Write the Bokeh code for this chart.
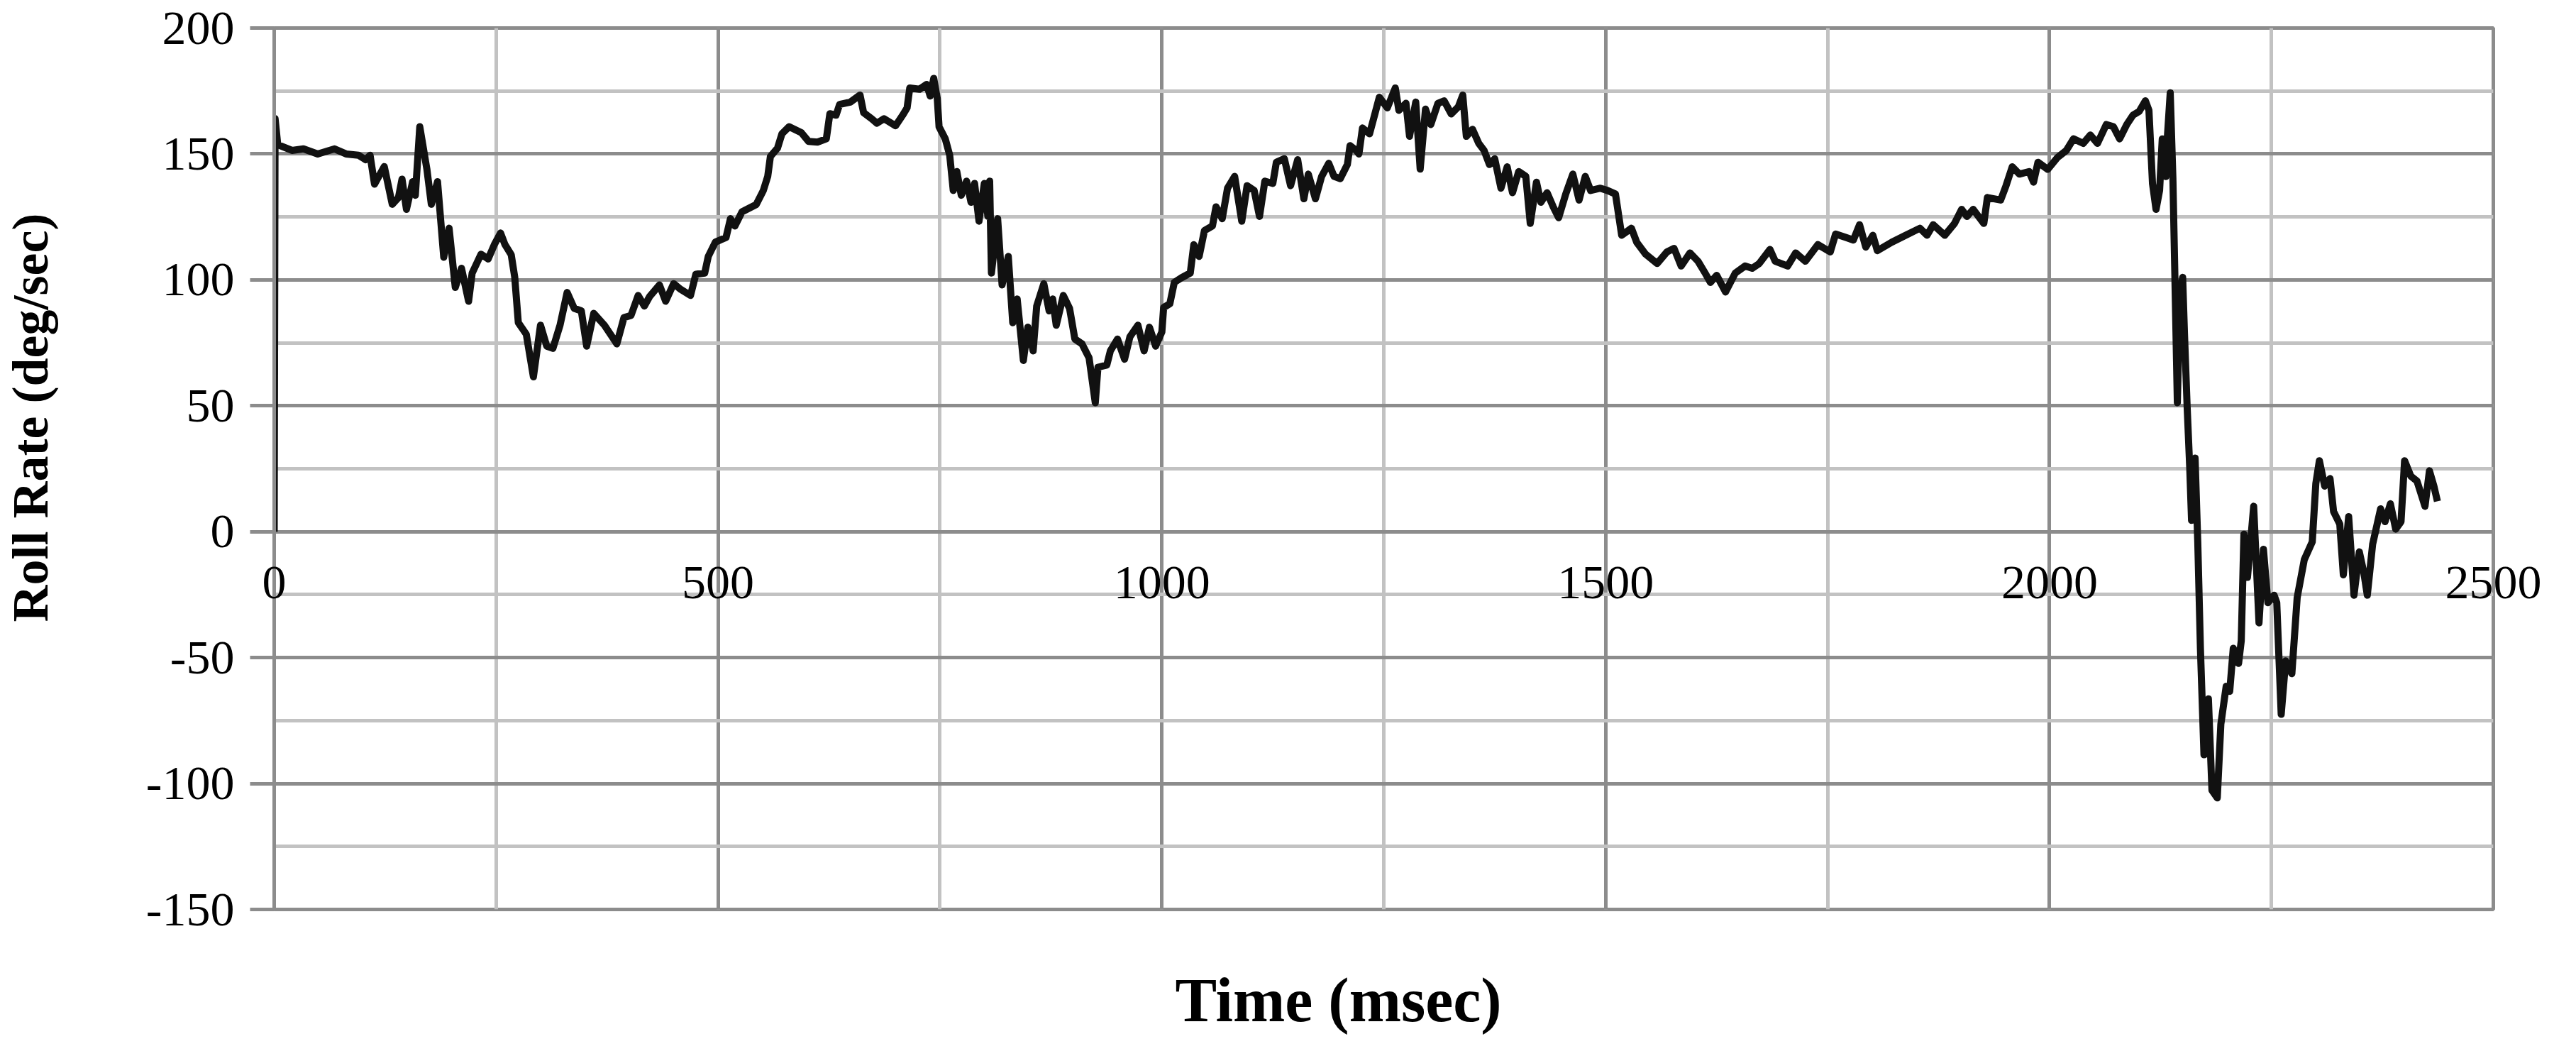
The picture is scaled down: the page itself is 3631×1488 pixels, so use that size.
import math
from bokeh.plotting import figure
from bokeh.models import (Range1d, SingleIntervalTicker, Label, LabelSet,
                          ColumnDataSource, PrintfTickFormatter)
from bokeh.embed import file_html
from bokeh.resources import INLINE

# ---- data ----
time_ms = [
    0, 1, 4, 20, 33, 49, 68, 81, 95, 103, 108, 113, 124, 133, 140, 144, 149, 156, 159, 164,
    172, 177, 184, 191, 197, 204, 211, 219, 223, 233, 241, 248, 255, 260, 267, 271, 275, 284,
    292, 300, 307, 314, 322, 330, 338, 346, 352, 360, 372, 386, 394,
    402, 410, 417, 423, 434, 441, 450, 458, 469, 475, 485, 489, 497, 509, 514, 519, 527, 543,
    551, 556, 559, 567, 572, 580, 594, 602, 612, 622, 626, 633, 637, 649, 660, 664, 673, 679,
    687, 700, 708, 713, 716, 727, 735, 739, 743, 747, 749, 756, 761, 765, 769, 774, 780, 785,
    789, 794, 800, 804,
    806, 808, 815, 820, 827, 832, 837, 844, 849, 855, 859, 867, 873, 877, 881, 889, 896, 902,
    910, 918, 925, 928, 938, 942, 950, 958, 964, 973, 980, 986, 993, 1000, 1002, 1009, 1014,
    1022, 1032, 1036, 1042, 1048, 1057, 1061, 1068, 1074, 1082, 1090, 1096, 1104, 1110, 1116,
    1125, 1129, 1138, 1145, 1153, 1160, 1165, 1173, 1180, 1188, 1194, 1201, 1209,
    1212, 1219, 1222, 1226, 1234, 1245, 1254, 1263, 1267, 1275, 1279, 1286, 1291, 1297, 1303,
    1311, 1318, 1326, 1334, 1339, 1343, 1350, 1357, 1363, 1369, 1375, 1382, 1389, 1395, 1402,
    1410, 1415, 1422, 1427, 1434, 1441, 1447, 1455, 1463, 1470, 1477, 1483, 1494, 1502, 1511,
    1518, 1529, 1535, 1545, 1558, 1569, 1577, 1585, 1595, 1604, 1612, 1618,
    1625, 1635, 1646, 1657, 1665, 1673, 1685, 1691, 1705, 1714, 1725, 1739, 1753, 1759, 1771,
    1779, 1786, 1793, 1801, 1806, 1822, 1838, 1854, 1862, 1869, 1882, 1893, 1901, 1907, 1914,
    1926, 1930, 1945, 1951, 1958, 1966, 1977, 1982, 1987, 1998, 2009, 2019, 2027,
    2038, 2046, 2054, 2064, 2072, 2079, 2087, 2094, 2101, 2108, 2112, 2116, 2120, 2124, 2127,
    2131, 2133, 2136, 2139, 2141, 2144, 2147, 2150, 2152, 2155, 2158, 2160, 2164, 2167, 2170,
    2174, 2179, 2183, 2189, 2193, 2199, 2203, 2207, 2213, 2216, 2219, 2223, 2230, 2236, 2241,
    2246, 2253, 2256, 2261, 2266, 2273, 2279, 2287, 2296, 2300, 2304, 2310, 2316, 2320, 2327,
    2331, 2337, 2343, 2349, 2354, 2358, 2364, 2373, 2378, 2384, 2390, 2396, 2400, 2407, 2414,
    2423, 2428, 2433, 2437,
]
roll_rate = [
    0, 164, 153.7, 151.4, 152, 150, 152, 150, 149.5, 147.7, 149.5, 138, 145, 130, 132.7, 140, 128, 139, 133.6, 160.8,
    144, 130, 139, 109, 120.5, 97, 104.6, 91.5, 102.7, 110.2, 108.3, 114, 118.6, 114, 110, 101, 83, 78.4,
    61.5, 82, 73.7, 72.8, 82, 95, 88.7, 87.7, 73.7, 86.7, 82, 74.6, 85,
    85.9, 93.8, 89.6, 93.4, 98, 91.5, 98.5, 96.2, 93.8, 102.2, 102.7, 109.3, 115, 116.8, 124.3, 121.4, 127, 129.9,
    135.5, 141.1, 149, 152.3, 158, 160.8, 158.4, 155, 154.7, 156, 166, 165.4, 169.7, 170.6, 173.4, 166.4, 164, 162.2,
    164, 161.2, 165.4, 168.3, 176.2, 175.7, 177.6, 173, 180, 172, 160.8, 156, 149.5, 135.5, 143, 133.6, 139.2, 130.8,
    138.3, 123.3, 138.3, 125.2,
    139.2, 102.7, 124.3, 98, 109.3, 83, 92.4, 68, 81.2, 71.8, 89.6, 98.5, 87.7, 92.4, 82, 93.8, 88.7, 76.5,
    74.6, 69, 51.2, 65.3, 66.2, 71.8, 76.5, 68.5, 77.4, 82, 71.8, 81.2, 73.7, 79.3, 89, 90.5, 99,
    100.8, 102.7, 114, 109.3, 119.6, 121.4, 129, 124.3, 136.4, 141.1, 123.3, 137.4, 135.5, 125.2, 139.2,
    138.3, 146.7, 148.1, 137.4, 147.7, 132.2, 142, 132.2, 141.1, 146.3, 141.1, 140.2, 145.8,
    153.3, 151.4, 150, 160.3, 158, 172.5, 168.3, 176.2, 167.3, 170.1, 157, 170.6, 144, 167.8, 161.7,
    170.1, 171.1, 165.9, 168.7, 173.4, 157, 159.8, 154.2, 151.4, 145.8, 148.1, 136.4, 144.9, 134.6, 143,
    141.1, 122.4, 138.8, 130.8, 134.6, 128.9, 124.7, 134.1, 142, 131.7, 141.1, 135.5, 136.4, 135.5, 134.1,
    117.7, 120.5, 114.9, 110.2, 106.5, 111.1, 112.5, 105.5, 110.7, 107.4, 102.7, 99,
    101.8, 95.2, 102.7, 105.5, 104.6, 106.5, 112.1, 107.4, 105.5, 110.7, 107.4, 114, 111.1, 118.2, 116.8,
    115.8, 121.9, 113, 117.7, 111.6, 114.9, 117.7, 120.5, 117.7, 121.9, 117.7, 122.4, 128, 125.2, 128,
    122.4, 132.7, 131.7, 137.4, 144.9, 142, 143, 138.8, 146.7, 143.9, 148.6, 151.4, 156,
    154.2, 157.5, 154.2, 161.7, 160.8, 156, 161.7, 165.4, 166.9, 171.1, 167.3, 138.3, 128, 135.5, 156,
    141, 158, 174.3, 140.2, 105.5, 51.2, 95, 101, 79, 50, 25, 4.5, 29.2, -4, -46.3,
    -88.6, -66.4, -102.7, -105.7, -76.5, -61.4, -63.4, -46.3, -52.3, -43.3, -1, -18.1, 10.1, -36.2, -7,
    -28.2, -25.2, -28.2, -72.5, -51.3, -56.4, -26.2, -11.1, -4, 19.1, 28.2, 18.1, 21.1, 8, 3,
    -17.1, 6, -25.2, -8, -16.1, -25.2, -5, 9.1, 4, 11.1, 1, 4, 28.2, 22.1, 20.1,
    10.1, 24.2, 18.1, 12.1,
]
x_tick_step = 500
y_tick_step = 50
x_limits = (0, 2500)
y_limits = (-150, 200)
x_tick_values = list(range(x_limits[0], x_limits[1] + 1, x_tick_step))
x_tick_labels = [str(v) for v in x_tick_values]
x_title = "Time (msec)"
y_title = "Roll Rate (deg/sec)"

GRID_DARK = "#8c8c8c"
GRID_LIGHT = "#c2c2c2"
SERIF = "Liberation Serif"
TICK_FONT = "68px"

p = figure(
    width=3615, height=1472,
    output_backend="svg", toolbar_location=None,
    x_range=Range1d(*x_limits), y_range=Range1d(*y_limits),
    min_border_left=386, min_border_right=101,
    min_border_top=39, min_border_bottom=191,
    background_fill_color="white", border_fill_color="white",
)

p.xaxis.ticker = SingleIntervalTicker(interval=x_tick_step, num_minor_ticks=2)
p.yaxis.ticker = SingleIntervalTicker(interval=y_tick_step, num_minor_ticks=2)
p.xgrid.ticker = p.xaxis.ticker
p.ygrid.ticker = p.yaxis.ticker

for g in (p.xgrid, p.ygrid):
    g.grid_line_color = GRID_DARK
    g.grid_line_width = 5
    g.minor_grid_line_color = GRID_LIGHT
    g.minor_grid_line_width = 5

p.outline_line_color = GRID_DARK
p.outline_line_width = 5

# the horizontal axis crosses at y = 0 (Excel style): its labels are drawn as annotations
p.xaxis.visible = False

p.yaxis.axis_line_color = GRID_DARK
p.yaxis.axis_line_width = 5
p.yaxis.major_tick_out = 34
p.yaxis.major_tick_in = 0
p.yaxis.major_tick_line_color = GRID_DARK
p.yaxis.major_tick_line_width = 5
p.yaxis.minor_tick_line_color = None
p.yaxis.major_label_standoff = 22
p.yaxis.formatter = PrintfTickFormatter(format="%d")
p.yaxis.major_label_text_font = SERIF
p.yaxis.major_label_text_font_size = TICK_FONT
p.yaxis.major_label_text_color = "black"

p.line(time_ms, roll_rate, line_color="#111111", line_width=10, line_join="round")

# x tick labels: inner ones inside the frame, the two end ones as side-panel labels
# (side-panel annotations are not clipped at the frame edge)
tick_style = dict(y_offset=-50, text_align="center", text_baseline="top",
                  text_font=SERIF, text_font_size=TICK_FONT, text_color="black")
inner = [(v, t) for v, t in zip(x_tick_values, x_tick_labels) if x_limits[0] < v < x_limits[1]]
tick_src = ColumnDataSource(dict(x=[v for v, _ in inner], y=[0] * len(inner),
                                 text=[t for _, t in inner]))
p.add_layout(LabelSet(x="x", y="y", text="text", source=tick_src, **tick_style))
p.add_layout(Label(x=x_tick_values[0], y=0, text=x_tick_labels[0], **tick_style), "left")
p.add_layout(Label(x=x_tick_values[-1], y=0, text=x_tick_labels[-1], **tick_style), "below")

p.add_layout(Label(x=x_limits[0], y=y_limits[0], x_offset=1500, y_offset=-128,
                   text=x_title, text_align="center", text_baseline="alphabetic",
                   text_font=SERIF, text_font_size="88px", text_font_style="bold",
                   text_color="black"), "below")
p.add_layout(Label(x=x_limits[0], y=y_limits[0], x_offset=-344, y_offset=693,
                   text=y_title, angle=math.pi / 2, text_align="center", text_baseline="middle",
                   text_font=SERIF, text_font_size="72px", text_font_style="bold",
                   text_color="black"), "left")

open("out.html", "w").write(file_html(p, INLINE))
